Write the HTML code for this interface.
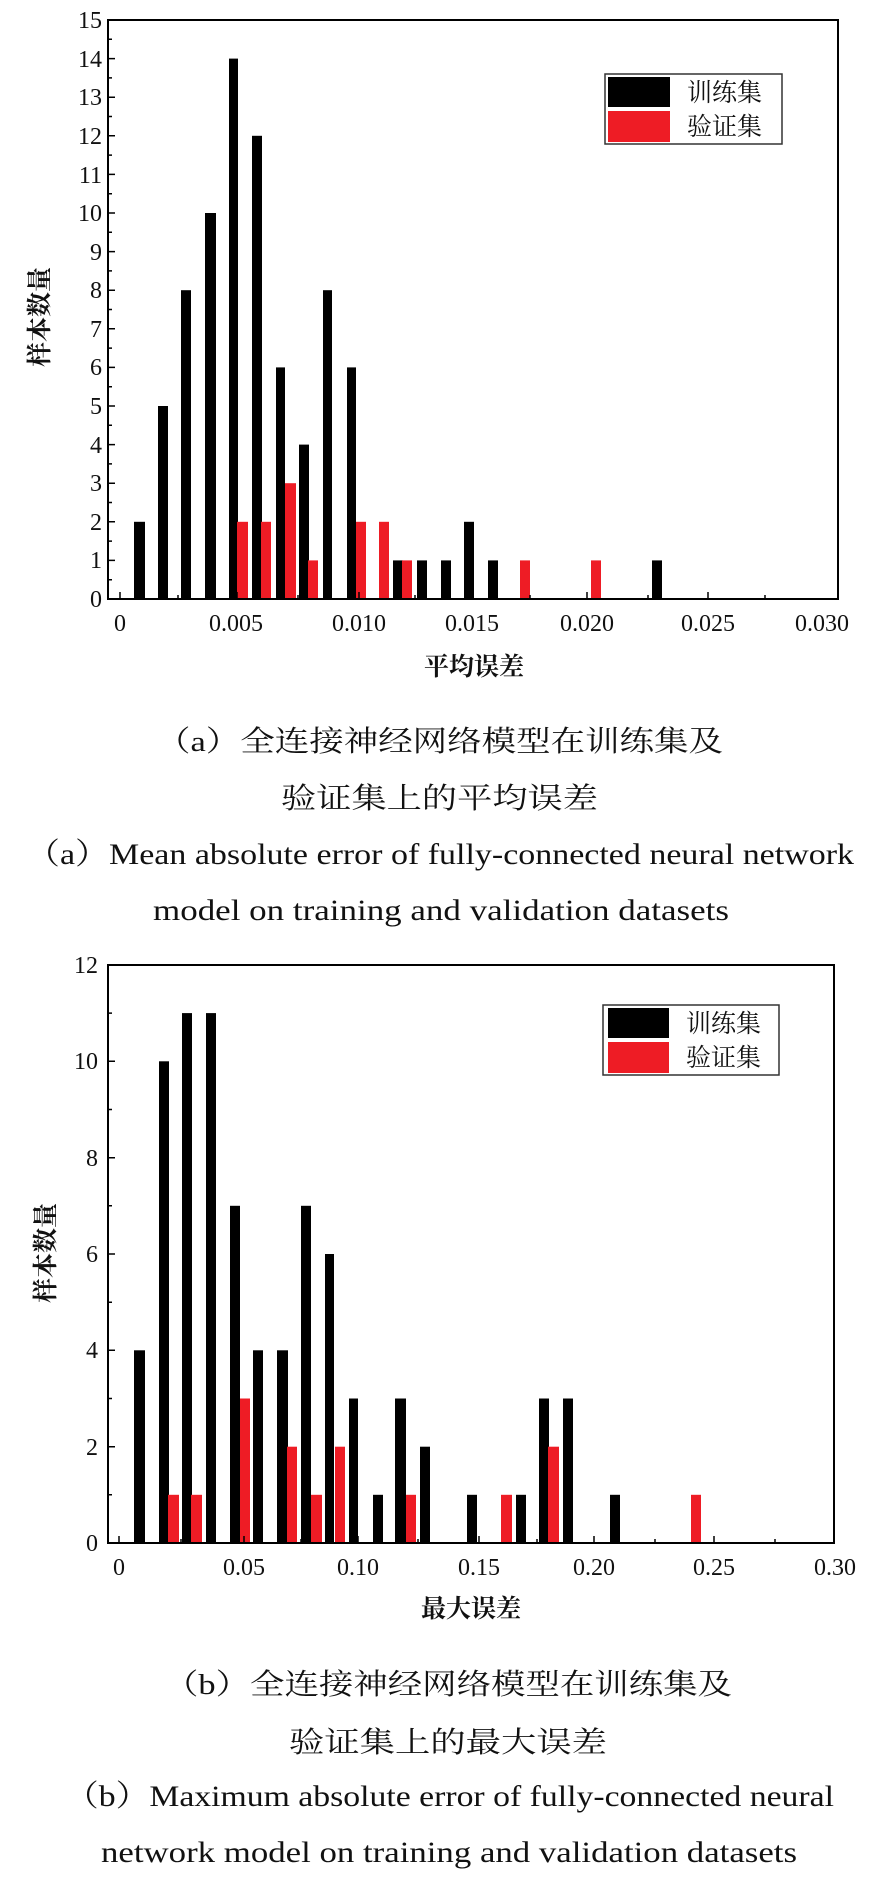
<!DOCTYPE html>
<html><head><meta charset="utf-8"><style>
html,body{margin:0;padding:0;background:#fff;}
svg{display:block;}
.t{font-family:"Liberation Serif","Noto Serif CJK SC",serif;fill:#111;}
</style></head><body>
<svg width="879" height="1882" viewBox="0 0 879 1882" xmlns="http://www.w3.org/2000/svg">
<!-- Chart 1 -->
<g fill="#000">
<rect x="134" y="521.8" width="11" height="77.2"/>
<rect x="158" y="406" width="10" height="193"/>
<rect x="181" y="290.2" width="10" height="308.8"/>
<rect x="205" y="213" width="11" height="386"/>
<rect x="229" y="58.6" width="9" height="540.4"/>
<rect x="252" y="135.8" width="10" height="463.2"/>
<rect x="276" y="367.4" width="9" height="231.6"/>
<rect x="299" y="444.6" width="10" height="154.4"/>
<rect x="323" y="290.2" width="9" height="308.8"/>
<rect x="347" y="367.4" width="9" height="231.6"/>
<rect x="393" y="560.4" width="10" height="38.6"/>
<rect x="417" y="560.4" width="10" height="38.6"/>
<rect x="441" y="560.4" width="10" height="38.6"/>
<rect x="464" y="521.8" width="10" height="77.2"/>
<rect x="488" y="560.4" width="10" height="38.6"/>
<rect x="652" y="560.4" width="10" height="38.6"/>
</g>
<g fill="#ee1c25">
<rect x="237" y="521.8" width="11" height="77.2"/>
<rect x="261" y="521.8" width="10" height="77.2"/>
<rect x="285" y="483.2" width="11" height="115.8"/>
<rect x="308" y="560.4" width="10" height="38.6"/>
<rect x="356" y="521.8" width="10" height="77.2"/>
<rect x="379" y="521.8" width="10" height="77.2"/>
<rect x="402" y="560.4" width="10" height="38.6"/>
<rect x="520" y="560.4" width="10" height="38.6"/>
<rect x="591" y="560.4" width="10" height="38.6"/>
</g>
<rect x="108" y="20" width="730" height="579" fill="none" stroke="#000" stroke-width="2"/>
<path stroke="#000" stroke-width="1.5" fill="none" d="
M108 560.4h7M108 521.8h7M108 483.2h7M108 444.6h7M108 406h7M108 367.4h7M108 328.8h7M108 290.2h7M108 251.6h7M108 213h7M108 174.4h7M108 135.8h7M108 97.2h7M108 58.6h7
M108 579.7h4M108 541.1h4M108 502.5h4M108 463.9h4M108 425.3h4M108 386.7h4M108 348.1h4M108 309.5h4M108 270.9h4M108 232.3h4M108 193.7h4M108 155.1h4M108 116.5h4M108 77.9h4M108 39.3h4
M120 599v-7M237 599v-7M359 599v-7M472 599v-7M587 599v-7M708 599v-7M178 599v-4M298 599v-4M415 599v-4M530 599v-4M648 599v-4M765 599v-4"/>
<g class="t" font-size="24" text-anchor="end">
<text x="102" y="607">0</text><text x="102" y="568">1</text><text x="102" y="530">2</text><text x="102" y="491">3</text><text x="102" y="453">4</text><text x="102" y="414">5</text><text x="102" y="375">6</text><text x="102" y="337">7</text><text x="102" y="298">8</text><text x="102" y="260">9</text><text x="102" y="221">10</text><text x="102" y="183">11</text><text x="102" y="144">12</text><text x="102" y="105">13</text><text x="102" y="67">14</text><text x="102" y="28">15</text>
</g>
<g class="t" font-size="24" text-anchor="middle">
<text x="120" y="631">0</text><text x="236" y="631">0.005</text><text x="359" y="631">0.010</text><text x="472" y="631">0.015</text><text x="587" y="631">0.020</text><text x="708" y="631">0.025</text><text x="822" y="631">0.030</text>
</g>
<text class="t" font-size="25" font-weight="bold" text-anchor="middle" x="474" y="675">平均误差</text>
<text class="t" font-size="25" font-weight="bold" text-anchor="middle" transform="translate(48,317) rotate(-90)">样本数量</text>
<rect x="605" y="74" width="177" height="70" fill="#fff" stroke="#333" stroke-width="1.5"/>
<rect x="608" y="77" width="62" height="30" fill="#000"/>
<rect x="608" y="111" width="62" height="31" fill="#ee1c25"/>
<text class="t" font-size="25" x="687" y="101">训练集</text>
<text class="t" font-size="25" x="687" y="135">验证集</text>

<!-- Captions a -->
<text class="t" font-size="29" x="156" y="751" textLength="567" lengthAdjust="spacingAndGlyphs">（a）全连接神经网络模型在训练集及</text>
<text class="t" font-size="29" x="281" y="808" textLength="317" lengthAdjust="spacingAndGlyphs">验证集上的平均误差</text>
<text class="t" font-size="30" x="26" y="864" textLength="828" lengthAdjust="spacingAndGlyphs">（a）Mean absolute error of fully-connected neural network</text>
<text class="t" font-size="30" x="153" y="920" textLength="576" lengthAdjust="spacingAndGlyphs">model on training and validation datasets</text>

<!-- Chart 2 -->
<g fill="#000">
<rect x="134" y="1350.3" width="11" height="192.7"/>
<rect x="159" y="1061.3" width="10" height="481.7"/>
<rect x="182" y="1013.1" width="10" height="529.9"/>
<rect x="206" y="1013.1" width="10" height="529.9"/>
<rect x="230" y="1205.8" width="10" height="337.2"/>
<rect x="253" y="1350.3" width="10" height="192.7"/>
<rect x="277" y="1350.3" width="11" height="192.7"/>
<rect x="301" y="1205.8" width="10" height="337.2"/>
<rect x="325" y="1254" width="9" height="289"/>
<rect x="349" y="1398.5" width="9" height="144.5"/>
<rect x="373" y="1494.8" width="10" height="48.2"/>
<rect x="395" y="1398.5" width="11" height="144.5"/>
<rect x="420" y="1446.7" width="10" height="96.3"/>
<rect x="467" y="1494.8" width="10" height="48.2"/>
<rect x="516" y="1494.8" width="10" height="48.2"/>
<rect x="539" y="1398.5" width="10" height="144.5"/>
<rect x="563" y="1398.5" width="10" height="144.5"/>
<rect x="610" y="1494.8" width="10" height="48.2"/>
</g>
<g fill="#ee1c25">
<rect x="168" y="1494.8" width="11" height="48.2"/>
<rect x="191" y="1494.8" width="11" height="48.2"/>
<rect x="240" y="1398.5" width="10" height="144.5"/>
<rect x="287" y="1446.7" width="10" height="96.3"/>
<rect x="311" y="1494.8" width="11" height="48.2"/>
<rect x="335" y="1446.7" width="10" height="96.3"/>
<rect x="406" y="1494.8" width="10" height="48.2"/>
<rect x="501" y="1494.8" width="11" height="48.2"/>
<rect x="548" y="1446.7" width="11" height="96.3"/>
<rect x="691" y="1494.8" width="10" height="48.2"/>
</g>
<rect x="108" y="965" width="726" height="578" fill="none" stroke="#000" stroke-width="2"/>
<path stroke="#000" stroke-width="1.5" fill="none" d="
M108 1446.7h7M108 1350.3h7M108 1254h7M108 1157.7h7M108 1061.3h7
M108 1494.8h4M108 1398.5h4M108 1302.2h4M108 1205.8h4M108 1109.5h4M108 1013.1h4
M119 1543v-7M244 1543v-7M358 1543v-7M479 1543v-7M594 1543v-7M714 1543v-7M181 1543v-4M301 1543v-4M418 1543v-4M537 1543v-4M655 1543v-4M775 1543v-4"/>
<g class="t" font-size="24" text-anchor="end">
<text x="98" y="1551">0</text><text x="98" y="1455">2</text><text x="98" y="1358">4</text><text x="98" y="1262">6</text><text x="98" y="1166">8</text><text x="98" y="1069">10</text><text x="98" y="973">12</text>
</g>
<g class="t" font-size="24" text-anchor="middle">
<text x="119" y="1575">0</text><text x="244" y="1575">0.05</text><text x="358" y="1575">0.10</text><text x="479" y="1575">0.15</text><text x="594" y="1575">0.20</text><text x="714" y="1575">0.25</text><text x="835" y="1575">0.30</text>
</g>
<text class="t" font-size="25" font-weight="bold" text-anchor="middle" x="471" y="1617">最大误差</text>
<text class="t" font-size="25" font-weight="bold" text-anchor="middle" transform="translate(54,1253) rotate(-90)">样本数量</text>
<rect x="603" y="1005" width="176" height="70" fill="#fff" stroke="#333" stroke-width="1.5"/>
<rect x="608" y="1008" width="61" height="30" fill="#000"/>
<rect x="608" y="1042" width="61" height="31" fill="#ee1c25"/>
<text class="t" font-size="25" x="686" y="1032">训练集</text>
<text class="t" font-size="25" x="686" y="1066">验证集</text>

<!-- Captions b -->
<text class="t" font-size="29" x="164" y="1694" textLength="568" lengthAdjust="spacingAndGlyphs">（b）全连接神经网络模型在训练集及</text>
<text class="t" font-size="29" x="289" y="1752" textLength="318" lengthAdjust="spacingAndGlyphs">验证集上的最大误差</text>
<text class="t" font-size="30" x="65" y="1806" textLength="769" lengthAdjust="spacingAndGlyphs">（b）Maximum absolute error of fully-connected neural</text>
<text class="t" font-size="30" x="101" y="1862" textLength="696" lengthAdjust="spacingAndGlyphs">network model on training and validation datasets</text>
</svg>
</body></html>
